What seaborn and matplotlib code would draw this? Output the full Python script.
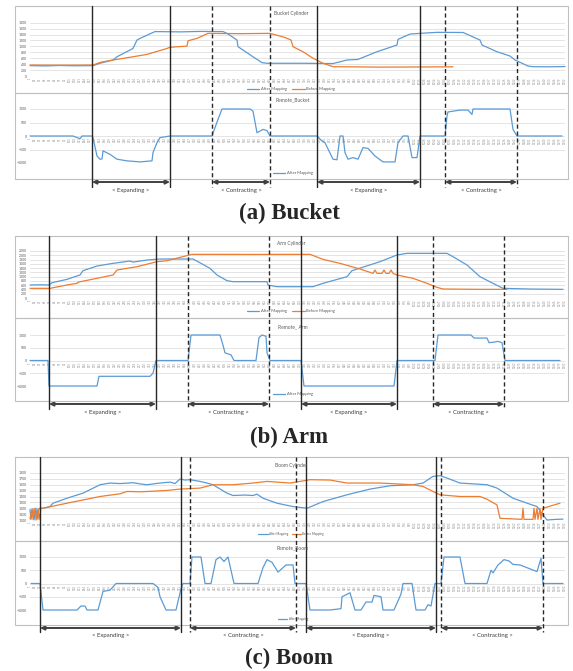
import matplotlib
matplotlib.use("Agg")
import matplotlib.pyplot as plt
import seaborn as sns
from matplotlib.lines import Line2D
from matplotlib.patches import Rectangle
from matplotlib import transforms

# ---------------- data (sample index along the recording) ----------------
bucket_after_x = [0, 15, 30, 45, 63, 70, 83, 87, 103, 107, 110, 125, 150, 170, 193, 197, 207, 208, 223, 232,
                  237, 270, 303, 317, 328, 347, 367, 368, 380, 390, 407, 433, 450, 452, 467, 480, 485, 498,
                  503, 520, 535]
bucket_after_y = [350, 340, 355, 345, 350, 430, 540, 650, 930, 1215, 1270, 1500, 1490, 1505, 1500, 1440, 1215,
                  990, 650, 450, 430, 430, 420, 540, 560, 820, 1046, 1237, 1417, 1440, 1474, 1470, 1215, 1046,
                  820, 675, 540, 337, 315, 310, 320]
bucket_before_x = [0, 30, 63, 70, 83, 103, 117, 137, 140, 157, 158, 167, 178, 210, 240, 255, 261, 263, 273, 283,
                   293, 303, 350, 390, 423]
bucket_before_y = [370, 365, 370, 460, 540, 650, 730, 930, 970, 1010, 1190, 1270, 1440, 1430, 1440, 1300, 1215,
                   990, 820, 600, 430, 315, 300, 305, 310]
bucket_remote_x = [0, 43, 50, 52, 62, 63, 67, 70, 72, 73, 80, 87, 97, 110, 122, 123, 127, 130, 140, 182, 185, 188,
                   192, 220, 223, 227, 233, 237, 240, 287, 292, 295, 303, 307, 310, 313, 315, 318, 323, 328, 333,
                   338, 345, 353, 365, 368, 373, 378, 382, 387, 390, 415, 417, 418, 430, 438, 442, 443, 480, 483,
                   487, 532]
bucket_remote_y = [0, 0, -100, 0, 0, -60, -740, -860, -850, -550, -680, -860, -920, -960, -920, -615, -245, -60,
                   0, 0, 310, 615, 1000, 1000, 920, 120, 245, 200, 0, 0, -185, -250, -860, -880, 0, 0, -615,
                   -860, -800, -860, -430, -460, -740, -960, -960, -245, 0, 0, -800, -800, 0, 0, 740, 890, 960,
                   960, 800, 1000, 1000, 245, 0, 0]

arm_after_x = [0, 10, 19, 22, 37, 50, 53, 67, 83, 100, 103, 117, 130, 163, 168, 180, 187, 197, 203, 237, 238, 247,
               283, 293, 317, 322, 350, 367, 377, 417, 423, 437, 450, 463, 473, 500, 533]
arm_after_y = [608, 620, 608, 716, 873, 1076, 1279, 1497, 1622, 1731, 1680, 1778, 1825, 1825, 1700, 1388, 1076,
               811, 764, 764, 608, 530, 530, 686, 998, 1279, 1700, 2013, 2091, 2091, 1934, 1544, 998, 686, 452,
               420, 405]
arm_before_x = [0, 20, 37, 47, 48, 83, 87, 107, 127, 137, 162, 220, 280, 293, 310, 330, 343, 345, 347, 352, 354,
                356, 359, 361, 363, 367, 383, 397, 407, 413, 450, 477]
arm_before_y = [452, 452, 608, 686, 740, 1076, 1310, 1466, 1700, 1746, 2044, 2040, 2044, 1809, 1622, 1357, 1154,
                1310, 1154, 1154, 1310, 1154, 1154, 1310, 1154, 1076, 920, 686, 499, 421, 405, 405]
arm_remote_x = [0, 18, 19, 67, 69, 120, 123, 126, 158, 161, 190, 193, 195, 201, 204, 226, 229, 232, 236, 237, 240,
                271, 274, 364, 367, 405, 408, 441, 444, 457, 459, 464, 468, 472, 475, 530]
arm_remote_y = [0, 0, -1000, -1000, -620, -620, -500, 0, 0, 1000, 1000, 600, 300, 220, 0, 0, 900, 1000, 950, 300,
                0, 0, -1000, -1000, 0, 0, 1000, 1000, 880, 880, 700, 720, 750, 700, 0, 0]

boom_after_x = [0, 1, 3, 4, 6, 7, 9, 10, 13, 20, 23, 37, 53, 70, 80, 90, 103, 110, 117, 130, 140, 145, 150, 155,
                160, 170, 177, 183, 197, 203, 215, 223, 227, 233, 247, 255, 263, 277, 293, 317, 340, 360, 383,
                393, 403, 410, 417, 430, 457, 467, 483, 500, 507, 513, 517, 525, 533]
boom_after_y = [1180, 1010, 1190, 1000, 1200, 1010, 1190, 1200, 1200, 1229, 1286, 1371, 1457, 1600, 1629, 1620,
                1635, 1615, 1600, 1629, 1645, 1620, 1697, 1680, 1686, 1657, 1629, 1600, 1457, 1417, 1425, 1417,
                1440, 1371, 1286, 1257, 1229, 1200, 1314, 1429, 1526, 1583, 1600, 1629, 1743, 1754, 1714, 1629,
                1600, 1543, 1371, 1269, 1229, 1086, 1000, 1010, 1015]
boom_before_x = [0, 2, 3, 5, 6, 8, 9, 11, 13, 37, 70, 90, 97, 110, 123, 137, 150, 170, 183, 203, 223, 237, 260,
                 270, 280, 300, 317, 350, 383, 393, 403, 410, 430, 450, 457, 467, 470, 492, 493, 494, 503, 504,
                 505, 507, 508, 510, 511, 513, 530]
boom_before_y = [1020, 1190, 1010, 1200, 1000, 1190, 1010, 1200, 1200, 1286, 1400, 1446, 1486, 1480, 1490, 1503,
                 1526, 1543, 1600, 1600, 1629, 1657, 1629, 1657, 1686, 1680, 1629, 1629, 1600, 1571, 1486, 1429,
                 1400, 1400, 1354, 1257, 1029, 1011, 1200, 1011, 1011, 1200, 1010, 1200, 1010, 1200, 1010, 1200,
                 1286]
boom_remote_x = [1, 10, 13, 47, 51, 55, 57, 68, 73, 80, 86, 123, 128, 130, 136, 146, 151, 153, 160, 162, 171, 175,
                 181, 186, 190, 194, 198, 204, 228, 233, 237, 242, 248, 256, 263, 265, 276, 280, 300, 311, 312,
                 320, 325, 331, 336, 342, 344, 351, 353, 364, 371, 373, 382, 386, 395, 398, 401, 405, 411, 414,
                 430, 435, 457, 461, 463, 468, 474, 479, 483, 490, 507, 511, 513, 533]
boom_remote_y = [0, 0, -1000, -1000, -850, -850, -1000, -1000, -300, -250, 0, 0, -150, -500, -1000, -1000, -200,
                 0, 0, 1000, 1000, 0, 0, 900, 1000, 830, 1000, 0, 0, 600, 900, 800, 430, 700, 700, 0, 0, -1000,
                 -1000, -950, -500, -350, -1000, -1000, -700, -700, -450, -500, -1000, -1000, -400, 0, 0, -1000,
                 -1000, -800, -850, 0, 0, 1000, 1000, 0, 0, 500, 400, 700, 900, 850, 720, 700, 450, 950, 0, 0]

# motion phases: (start sample, end sample, name)
bucket_phases = [(62, 140, "Expanding"), (182, 240, "Contracting"), (287, 390, "Expanding"), (415, 487, "Contracting")]
arm_phases = [(19, 126, "Expanding"), (158, 239, "Contracting"), (271, 367, "Expanding"), (403, 474, "Contracting")]
boom_phases = [(10, 151, "Expanding"), (160, 266, "Contracting"), (276, 406, "Expanding"), (411, 513, "Contracting")]

x_ticks = list(range(0, 536, 5))
x_tick_labels = [str(1 + 13 * i) for i in range(len(x_ticks))]

BLUE = "#5b9bd5"
ORANGE = "#ed7d31"
GRID = "#d9d9d9"
TXT = "#595959"
W, H = 573, 671

panels = [
    dict(caption="(a) Bucket", top_title="Bucket Cylinder", bot_title="Remote_Bucket",
         after=(bucket_after_x, bucket_after_y), before=(bucket_before_x, bucket_before_y),
         remote=(bucket_remote_x, bucket_remote_y), phases=bucket_phases,
         ylim=(0, 1800), ystep=200, box=(6, 93, 179), top_ax=(22.7, 76), bot_ax=(109, 163),
         titles_y=(13, 100), legends_y=(89, 173), bracket_y=182, label_y=188, cap_y=213, leg_fs=3.0),
    dict(caption="(b) Arm", top_title="Arm Cylinder", bot_title="Remote_ Arm",
         after=(arm_after_x, arm_after_y), before=(arm_before_x, arm_before_y),
         remote=(arm_remote_x, arm_remote_y), phases=arm_phases,
         ylim=(0, 2200), ystep=200, box=(236, 318, 401), top_ax=(251, 298), bot_ax=(335, 386),
         titles_y=(243, 327), legends_y=(311, 394), bracket_y=404, label_y=410, cap_y=437, leg_fs=3.0),
    dict(caption="(c) Boom", top_title="Boom Cylinder", bot_title="Remote_Boom",
         after=(boom_after_x, boom_after_y), before=(boom_before_x, boom_before_y),
         remote=(boom_remote_x, boom_remote_y), phases=boom_phases,
         ylim=(1000, 1800), ystep=100, box=(457, 541, 625), top_ax=(473, 520), bot_ax=(557, 610),
         titles_y=(465, 548), legends_y=(534, 619), bracket_y=628, label_y=633, cap_y=658, leg_fs=2.2),
]

sns.set_theme(style="white")
plt.rcParams["font.family"] = ["Lato", "DejaVu Sans"]

fig = plt.figure(figsize=(W / 100, H / 100), dpi=100)


def fy(py):
    return 1 - py / H


def make_axes(top_px, bot_px):
    ax = fig.add_axes([30 / W, fy(bot_px), (565 - 30) / W, (bot_px - top_px) / H])
    ax.set_xlim(0, 535)
    for s in ax.spines.values():
        s.set_visible(False)
    ax.yaxis.grid(True, color=GRID, lw=0.5)
    ax.set_axisbelow(True)
    ax.set_xticks(x_ticks)
    ax.set_xticklabels(x_tick_labels)
    ax.tick_params(axis="x", labelsize=2.0, labelrotation=90, colors="#8c8c8c", length=0, pad=1)
    ax.tick_params(axis="y", labelsize=2.5, colors=TXT, length=0, pad=2)
    ax.set_xlabel("")
    ax.set_ylabel("")
    return ax


for p in panels:
    box_top, box_mid, box_bot = p["box"]
    for y0, y1 in [(box_top, box_mid), (box_mid, box_bot)]:
        fig.add_artist(Rectangle((15 / W, fy(y1)), (568 - 15) / W, (y1 - y0) / H,
                                 transform=fig.transFigure, fill=False, ec="#bfbfbf", lw=0.8))

    # cylinder position
    ax1 = make_axes(*p["top_ax"])
    sns.lineplot(x=p["after"][0], y=p["after"][1], ax=ax1, color=BLUE, lw=0.9,
                 estimator=None, sort=False, label="After Mapping")
    sns.lineplot(x=p["before"][0], y=p["before"][1], ax=ax1, color=ORANGE, lw=0.9,
                 estimator=None, sort=False, label="Before Mapping")
    ax1.set_ylim(*p["ylim"])
    ax1.set_yticks(range(p["ylim"][0], p["ylim"][1] + 1, p["ystep"]))
    ax1.legend(loc="center", bbox_to_anchor=(291 / W, fy(p["legends_y"][0])), bbox_transform=fig.transFigure,
               ncol=2, frameon=False, fontsize=p["leg_fs"], handlelength=3, columnspacing=1.2,
               handletextpad=0.4, labelcolor=TXT)

    # remote command
    ax2 = make_axes(*p["bot_ax"])
    sns.lineplot(x=p["remote"][0], y=p["remote"][1], ax=ax2, color=BLUE, lw=0.9,
                 estimator=None, sort=False, label="After Mapping")
    ax2.set_ylim(-1000, 1000)
    ax2.set_yticks([-1000, -500, 0, 500, 1000])
    ax2.spines["bottom"].set_position(("data", 0))
    ax2.legend(loc="center", bbox_to_anchor=(293 / W, fy(p["legends_y"][1])), bbox_transform=fig.transFigure,
               frameon=False, fontsize=p["leg_fs"], handlelength=3, handletextpad=0.4, labelcolor=TXT)
    for ax in (ax1, ax2):
        for ln in ax.lines:
            ln.set_clip_on(False)

    fig.text(291 / W, fy(p["titles_y"][0]), p["top_title"], ha="center", va="center", fontsize=3.5, color=TXT)
    fig.text(293 / W, fy(p["titles_y"][1]), p["bot_title"], ha="center", va="center", fontsize=3.5, color=TXT)

    # phase markers spanning both charts
    trans = transforms.blended_transform_factory(ax1.transData, fig.transFigure)
    for start, end, name in p["phases"]:
        ls = "-" if name == "Expanding" else (0, (3, 2))
        for s in (start, end):
            fig.add_artist(Line2D([s, s], [fy(box_top), fy(p["label_y"] - 1)], transform=trans,
                                  color="#262626", lw=1.0, ls=ls))
        ax1.annotate("", xy=(end, fy(p["bracket_y"])), xytext=(start, fy(p["bracket_y"])),
                     xycoords=trans, textcoords=trans, annotation_clip=False,
                     arrowprops=dict(arrowstyle="<|-|>,head_length=0.2,head_width=0.1",
                                     color="#404040", lw=1.4, shrinkA=0, shrinkB=0))
        ax1.text((start + end) / 2, fy(p["label_y"]), f"< {name} >", transform=trans,
                 ha="center", va="top", fontsize=4.3, color="#404040")

    fig.text(289 / W, fy(p["cap_y"]), p["caption"], ha="center", va="center", fontsize=16.5,
             fontweight="bold", family=["Liberation Serif", "DejaVu Serif"])

fig.savefig("out.png", dpi=100, facecolor="white")
